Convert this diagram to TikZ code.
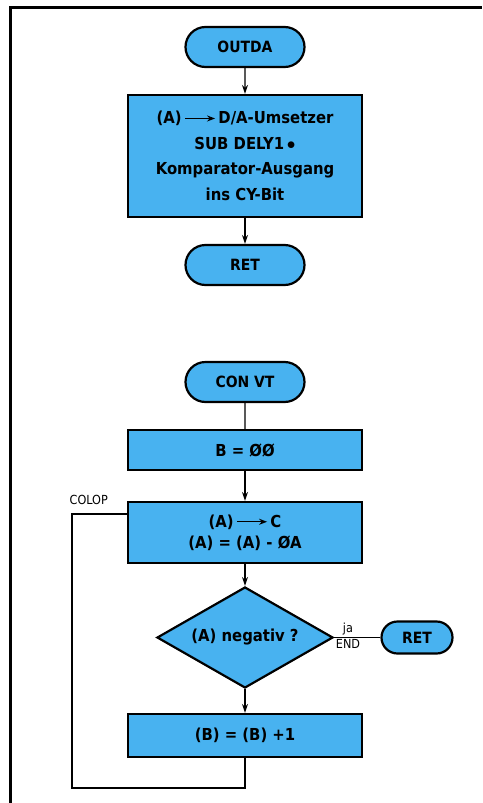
\documentclass[tikz,border=0pt]{standalone}
\usepackage{fontspec}
\setmainfont{DejaVu Sans Condensed}
\usetikzlibrary{shapes.geometric,shapes.misc,arrows.meta}
\definecolor{fillblue}{HTML}{48B2F0}
\newcommand{\longarr}{\,\tikz[baseline=-0.6ex,x=1pt,y=1pt]\draw[line width=1.3pt,-{Stealth[length=8pt,width=6pt]}] (0,0)--(30,0);\,}
\tikzset{
  proc/.style={draw,line width=2.2pt,fill=fillblue,minimum width=234pt,inner sep=0pt,align=center,font=\fontsize{16.5}{25.5}\selectfont\bfseries},
  term/.style={draw,line width=2.2pt,fill=fillblue,rounded rectangle,minimum width=119pt,minimum height=40pt,inner sep=0pt,font=\fontsize{15.5}{18}\selectfont\bfseries},
  dec/.style={draw,line width=2.2pt,fill=fillblue,diamond,minimum width=176pt,minimum height=101pt,inner sep=0pt},
  dectext/.style={inner sep=0pt,font=\fontsize{16.5}{18}\selectfont\bfseries},
  flow/.style={line width=1.4pt,-{Stealth[length=9pt,width=6pt]}},
  plain/.style={line width=1.4pt},
  lbl/.style={font=\fontsize{12.5}{14}\selectfont,inner sep=1.5pt}
}
\begin{document}
\begin{tikzpicture}[x=1pt,y=-1pt]
\useasboundingbox (0,0) rectangle (482,803);
% frame
\draw[line width=3pt] (10,803) -- (10,7) -- (482,7);
% OUTDA part
\node[term] (outda) at (245,47) {OUTDA};
\node[proc,minimum height=122pt] (p1) at (245,156) {(A)\longarr D/A-Umsetzer\\SUB DELY1\,$\bullet$\\Komparator-Ausgang\\ins CY-Bit};
\node[term] (ret1) at (245,265) {RET};
\draw[flow] (outda) -- (p1);
\draw[flow] (p1) -- (ret1);
% CONVT part
\node[term] (convt) at (245,382) {CON VT};
\node[proc,minimum height=40pt] (b0) at (245,450) {B = ØØ};
\node[proc,minimum height=61pt,font=\fontsize{16.5}{21}\selectfont\bfseries] (p2) at (245,532.5) {(A)\longarr C\\(A) = (A) - ØA};
\node[dec] (d) at (245,637.5) {};
\node[dectext] (dt) at (d.center) {(A) negativ ?};
\node[term,minimum width=71pt,minimum height=32pt] (ret2) at (417,637.5) {RET};
\node[proc,minimum height=43pt] (b1) at (245,735.5) {(B) = (B) +1};
\draw[plain] (convt) -- (b0);
\draw[flow] (b0) -- (p2);
\draw[flow] (p2) -- (d);
\draw[flow] (d) -- (b1);
\draw[plain] (d.east) -- (ret2.west) node[pos=0.3,above,lbl] {ja} node[pos=0.3,below,lbl] {END};
\coordinate (c1) at (245,788);
\coordinate (c2) at (72,788);
\coordinate (c3) at (72,514);
\draw[plain] (b1.south) -- (c1) -- (c2) -- (c3) -- (c3 -| p2.west);
\node[lbl,anchor=south west] (colop) at (68,506) {COLOP};
\end{tikzpicture}
\end{document}
